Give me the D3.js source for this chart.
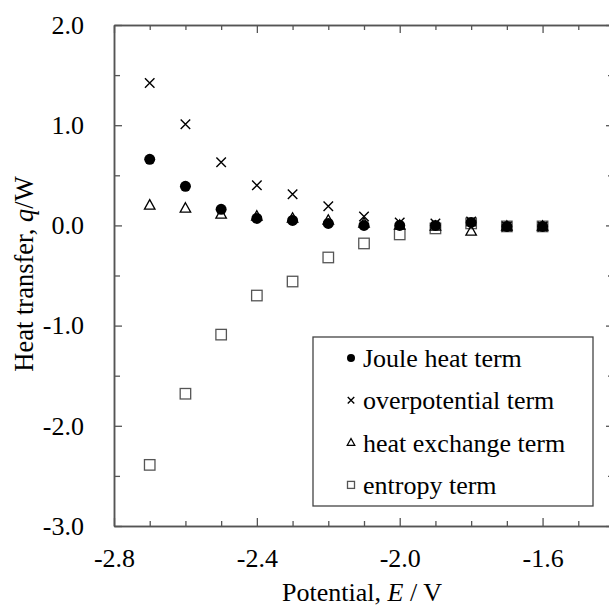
<!DOCTYPE html>
<html><head><meta charset="utf-8">
<script src="https://cdn.jsdelivr.net/npm/d3@7"></script>
<style>
html,body{margin:0;padding:0;background:#fff;}
svg{display:block;}
text{font-family:"Liberation Serif","Times New Roman",serif;fill:#000;}
</style></head>
<body>
<svg id="chart" width="609" height="608"></svg>
<script>
const potentials = [-2.7, -2.6, -2.5, -2.4, -2.3, -2.2, -2.1, -2.0, -1.9, -1.8, -1.7, -1.6];
const jouleHeat = [0.66, 0.39, 0.16, 0.07, 0.05, 0.02, 0.00, 0.00, 0.00, 0.03, -0.01, -0.01];
const overpotential = [1.42, 1.01, 0.63, 0.40, 0.31, 0.19, 0.09, 0.03, 0.02, 0.04, -0.01, -0.01];
const heatExchange = [0.20, 0.17, 0.11, 0.09, 0.07, 0.05, 0.02, 0.00, -0.01, -0.06, -0.01, -0.01];
const entropy = [-2.39, -1.68, -1.09, -0.70, -0.56, -0.32, -0.18, -0.09, -0.03, 0.02, -0.01, -0.01];
const xMajorTicks = [-2.8, -2.4, -2.0, -1.6];
const yMajorTicks = [2.0, 1.0, 0.0, -1.0, -2.0, -3.0];
const legendLabels = ["Joule heat term", "overpotential term", "heat exchange term", "entropy term"];

const svg = d3.select("#chart");
const L = 114, T = 25, R = 614, B = 526;
const x = d3.scaleLinear().domain([-2.8, -1.4]).range([L, R]);
const y = d3.scaleLinear().domain([-3, 2]).range([B, T]);
const axisColor = "#555";
const FS = 26;
const fmt = d3.formatLocale({decimal: ".", thousands: ",", grouping: [3], currency: ["", ""], minus: "-"}).format(".1f");

const xMinor = d3.range(-28, -13).map(d => d / 10).filter(v => !xMajorTicks.some(m => Math.abs(m - v) < 1e-9));
const yMinor = d3.range(-30, 21, 5).map(d => d / 10).filter(v => !yMajorTicks.some(m => Math.abs(m - v) < 1e-9));

function addAxis(axisFn, scale, ticks, size, transform, labels) {
  const a = axisFn(scale).tickValues(ticks).tickSizeInner(-size).tickSizeOuter(0);
  if (!labels) a.tickFormat(() => "");
  else a.tickFormat(fmt).tickPadding(size + 9);
  const g = svg.append("g").attr("transform", transform).call(a);
  g.selectAll("line").attr("stroke", axisColor).attr("stroke-width", 1.3);
  g.select(".domain").attr("stroke", axisColor).attr("stroke-width", 1.5);
  g.selectAll("text").style("font-size", FS + "px").attr("fill", "#000");
  return g;
}
const gxb = addAxis(d3.axisBottom, x, xMajorTicks, 8, `translate(0,${B})`, true);
gxb.selectAll("text").attr("dy", "0.71em").attr("y", 23);
addAxis(d3.axisBottom, x, xMinor, 5, `translate(0,${B})`, false);
addAxis(d3.axisTop, x, xMajorTicks, 8, `translate(0,${T})`, false);
addAxis(d3.axisTop, x, xMinor, 5, `translate(0,${T})`, false);
const gyl = addAxis(d3.axisLeft, y, yMajorTicks, 8, `translate(${L},0)`, true);
gyl.selectAll("text").attr("x", -30);
addAxis(d3.axisLeft, y, yMinor, 6, `translate(${L},0)`, false);
addAxis(d3.axisRight, y, yMajorTicks, 8, `translate(${R},0)`, false);
addAxis(d3.axisRight, y, yMinor, 6, `translate(${R},0)`, false);

const xt = svg.append("text").attr("x", (L + R) / 2 - 2).attr("y", 601)
  .attr("text-anchor", "middle").style("font-size", FS + "px");
xt.append("tspan").text("Potential, ");
xt.append("tspan").style("font-style", "italic").text("E");
xt.append("tspan").text(" / V");

const yt = svg.append("text").attr("transform", `translate(33,${274}) rotate(-90)`)
  .attr("text-anchor", "middle").style("font-size", "26.5px");
yt.append("tspan").text("Heat transfer, ");
yt.append("tspan").style("font-style", "italic").text("q");
yt.append("tspan").text("/W");

function drawSquare(g, cx, cy, s, color) {
  g.append("rect").attr("x", cx - s / 2).attr("y", cy - s / 2).attr("width", s).attr("height", s)
    .attr("fill", "none").attr("stroke", color).attr("stroke-width", 1.3);
}
function drawTriangle(g, cx, cy, s) {
  const h = s * 0.9;
  g.append("path").attr("d", `M${cx},${cy - h * 0.6}L${cx + s / 2},${cy + h * 0.4}L${cx - s / 2},${cy + h * 0.4}Z`)
    .attr("fill", "none").attr("stroke", "#000").attr("stroke-width", 1.3);
}
function drawCircle(g, cx, cy, r) {
  g.append("circle").attr("cx", cx).attr("cy", cy).attr("r", r).attr("fill", "#000");
}
function drawCross(g, cx, cy, s) {
  const h = s / 2;
  g.append("path").attr("d", `M${cx - h},${cy - h}L${cx + h},${cy + h}M${cx - h},${cy + h}L${cx + h},${cy - h}`)
    .attr("stroke", "#000").attr("stroke-width", 1.4).attr("fill", "none");
}

const marks = svg.append("g");
potentials.forEach((p, i) => drawSquare(marks, x(p), y(entropy[i]), 10.5, "#555"));
potentials.forEach((p, i) => drawTriangle(marks, x(p), y(heatExchange[i]), 10.5));
potentials.forEach((p, i) => drawCircle(marks, x(p), y(jouleHeat[i]), 5.5));
potentials.forEach((p, i) => drawCross(marks, x(p), y(overpotential[i]), 9.5));

const lg = svg.append("g");
lg.append("rect").attr("x", 313).attr("y", 337).attr("width", 280).attr("height", 169)
  .attr("fill", "#fff").attr("stroke", "#444").attr("stroke-width", 1.3);
const ly0 = 358, ldy = 42.3;
legendLabels.forEach((lab, i) => {
  const cy = ly0 + i * ldy;
  if (i === 0) drawCircle(lg, 351, cy, 4);
  if (i === 1) drawCross(lg, 351, cy, 6.5);
  if (i === 2) drawTriangle(lg, 351, cy, 7.5);
  if (i === 3) drawSquare(lg, 351, cy, 7, "#555");
  lg.append("text").attr("x", 363).attr("y", cy).attr("dy", "0.35em")
    .style("font-size", FS + "px").text(lab);
});
</script>
</body></html>
